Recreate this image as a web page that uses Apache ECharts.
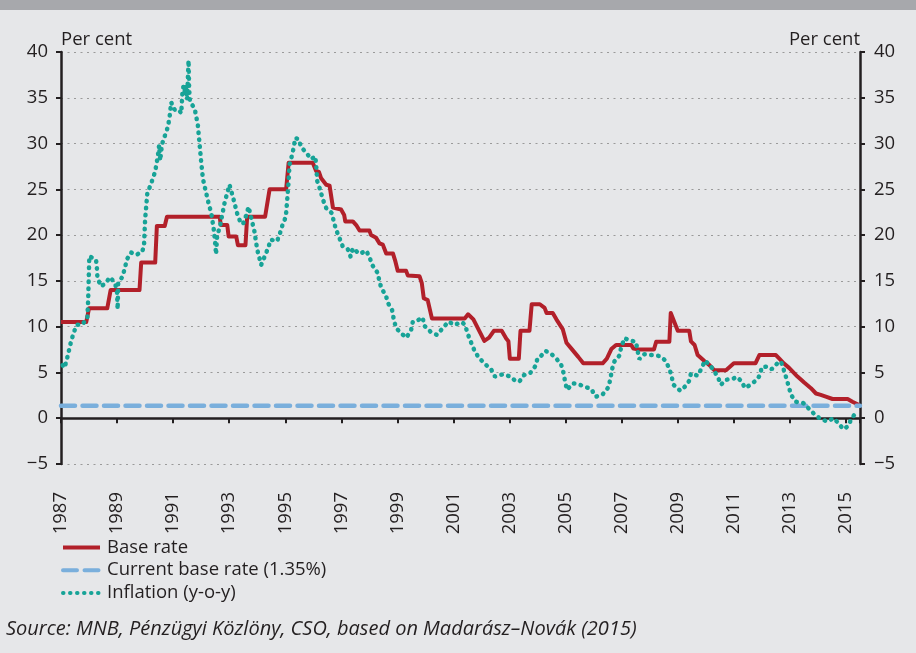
<!DOCTYPE html>
<html><head><meta charset="utf-8">
<script src="https://cdn.jsdelivr.net/npm/echarts@6/dist/echarts.min.js"></script>
<style>html,body{margin:0;padding:0;background:#e6e7e9;}#c{width:916px;height:653px;}</style>
</head><body><div id="c"></div>
<script>
// ---- data ----
const legendNames = ['Base rate', 'Current base rate (1.35%)', 'Inflation (y-o-y)'];
const xMin = 1987, xMax = 2015.5;
const currentRate = 1.35;
const baseYears = [1987.0,1987.9,1988.0,1988.65,1988.77,1989.8,1989.86,1990.36,1990.42,1990.7,1990.78,1992.66,1992.7,1992.93,1992.98,1993.25,1993.31,1993.58,1993.64,1994.28,1994.44,1995.03,1995.12,1995.98,1996.1,1996.2,1996.28,1996.46,1996.58,1996.7,1996.99,1997.1,1997.14,1997.41,1997.53,1997.65,1998.0,1998.06,1998.24,1998.36,1998.48,1998.6,1998.84,1998.93,1999.01,1999.31,1999.37,1999.79,1999.87,1999.94,2000.08,2000.23,2001.4,2001.52,2001.71,2002.1,2002.27,2002.44,2002.72,2002.88,2002.96,2003.01,2003.33,2003.39,2003.71,2003.79,2004.08,2004.25,2004.32,2004.54,2004.67,2004.9,2005.03,2005.22,2005.45,2005.63,2006.32,2006.47,2006.63,2006.8,2007.34,2007.42,2007.62,2008.15,2008.23,2008.7,2008.75,2009.0,2009.41,2009.47,2009.6,2009.71,2009.95,2010.13,2010.3,2010.72,2011.0,2011.77,2011.91,2012.5,2012.64,2012.78,2012.97,2013.27,2013.51,2013.75,2013.93,2014.1,2014.28,2014.52,2015.06,2015.23,2015.47];
const baseValues = [10.5,10.5,12.0,12.0,14.0,14.0,17.0,17.0,21.0,21.0,22.0,22.0,21.1,21.1,19.85,19.85,18.9,18.9,22.0,22.0,25.0,25.0,27.9,27.9,27.0,26.9,26.2,25.5,25.4,23.0,22.8,22.2,21.5,21.5,21.1,20.5,20.5,20.0,19.7,19.1,18.95,18.0,18.0,17.1,16.1,16.1,15.6,15.5,14.75,13.1,12.9,10.9,10.9,11.35,10.8,8.45,8.8,9.55,9.55,8.7,8.4,6.5,6.5,9.55,9.55,12.45,12.45,12.05,11.5,11.5,10.8,9.7,8.25,7.55,6.7,6.0,6.0,6.5,7.55,8.0,8.0,7.6,7.5,7.5,8.35,8.35,11.5,9.55,9.55,8.4,8.0,6.9,6.25,5.8,5.25,5.25,6.0,6.0,6.9,6.9,6.45,6.0,5.5,4.55,3.9,3.28,2.7,2.55,2.36,2.1,2.1,1.8,1.45];
const inflYears = [1987.06,1987.12,1987.2,1987.36,1987.46,1987.56,1987.74,1987.94,1987.97,1988.01,1988.25,1988.28,1988.3,1988.43,1988.57,1988.75,1988.93,1989.0,1989.02,1989.04,1989.2,1989.36,1989.5,1989.67,1989.88,1989.96,1990.0,1990.08,1990.2,1990.36,1990.43,1990.47,1990.5,1990.54,1990.6,1990.81,1990.87,1990.93,1991.05,1991.2,1991.29,1991.33,1991.37,1991.42,1991.46,1991.5,1991.53,1991.55,1991.57,1991.6,1991.77,1991.88,1991.94,1992.0,1992.06,1992.14,1992.27,1992.36,1992.45,1992.49,1992.53,1992.57,1992.66,1992.84,1992.93,1993.01,1993.13,1993.28,1993.4,1993.49,1993.61,1993.69,1993.76,1993.9,1994.0,1994.14,1994.27,1994.39,1994.48,1994.71,1994.81,1994.9,1995.02,1995.07,1995.12,1995.15,1995.24,1995.31,1995.35,1995.47,1995.57,1995.75,1995.92,1996.07,1996.1,1996.14,1996.26,1996.34,1996.46,1996.66,1996.73,1996.81,1996.93,1997.05,1997.23,1997.33,1997.41,1997.65,1997.89,1998.0,1998.12,1998.3,1998.36,1998.44,1998.58,1998.66,1998.81,1998.87,1998.95,1999.16,1999.32,1999.49,1999.55,1999.73,1999.9,1999.96,2000.18,2000.41,2000.62,2000.82,2001.03,2001.3,2001.41,2001.51,2001.61,2001.74,2001.89,2002.13,2002.34,2002.48,2002.76,2003.03,2003.2,2003.35,2003.51,2003.74,2003.91,2004.0,2004.12,2004.28,2004.46,2004.66,2004.84,2004.93,2004.98,2005.05,2005.25,2005.43,2005.67,2005.91,2006.08,2006.32,2006.53,2006.6,2006.65,2006.74,2006.92,2006.98,2007.1,2007.27,2007.51,2007.56,2007.63,2007.81,2008.05,2008.34,2008.54,2008.7,2008.78,2008.85,2009.09,2009.29,2009.41,2009.47,2009.71,2009.85,2009.97,2010.16,2010.33,2010.45,2010.54,2010.72,2010.96,2011.11,2011.25,2011.4,2011.59,2011.82,2011.94,2011.99,2012.18,2012.35,2012.54,2012.68,2012.78,2012.86,2012.95,2013.04,2013.21,2013.48,2013.69,2013.87,2014.1,2014.34,2014.56,2014.7,2014.91,2015.08,2015.2,2015.36];
const inflValues = [5.8,5.5,6.3,8.4,9.4,10.2,10.2,10.9,13.0,17.7,17.3,16.4,15.3,14.4,14.7,15.4,14.75,13.7,11.9,14.75,15.5,17.4,18.1,17.85,18.1,18.75,21.7,24.6,25.5,26.95,28.2,29.0,29.8,28.15,29.9,31.8,32.8,34.5,33.7,33.7,33.3,35.5,36.3,35.6,36.2,34.8,37.5,39.1,36.0,34.6,33.8,32.05,30.05,28.0,26.2,25.1,23.4,22.4,20.6,19.5,17.9,20.0,20.8,23.6,24.6,25.5,24.2,22.4,21.4,21.2,22.2,23.1,22.2,20.4,18.4,16.75,17.7,18.6,19.5,19.35,20.2,21.1,22.0,23.9,25.9,27.7,28.7,29.7,30.6,30.5,29.6,29.0,28.3,28.6,27.7,25.9,24.8,23.9,22.95,22.4,21.5,20.6,19.7,18.75,18.45,17.65,18.55,17.95,18.3,17.6,16.65,15.85,14.9,14.1,13.5,12.6,11.8,10.8,9.85,9.2,8.8,9.65,10.55,10.7,11.0,10.1,9.45,9.1,9.85,10.55,10.2,10.5,10.2,9.2,8.4,7.45,6.65,5.9,5.35,4.55,4.8,4.55,4.1,4.0,4.7,4.95,5.65,6.55,6.8,7.35,7.1,6.55,5.85,4.9,4.0,3.1,3.8,3.75,3.45,3.2,2.35,2.6,3.4,4.35,5.3,6.2,6.85,7.75,8.75,8.5,8.35,7.45,6.45,7.0,6.9,6.8,6.35,5.45,4.55,3.65,3.0,3.55,4.1,4.9,4.65,5.45,6.3,5.75,5.0,4.35,3.65,4.2,4.3,4.5,4.1,3.3,3.65,4.2,4.75,5.55,5.65,5.35,5.95,6.2,5.3,4.5,3.55,2.55,1.8,1.65,1.0,0.45,-0.1,-0.35,0.0,-0.45,-1.2,-0.85,0.0,0.6];
const yMin = -5, yMax = 40, yStep = 5, xStep = 2;
const axisTitle = 'Per cent';
const sourceText = 'Source: MNB, Pénzügyi Közlöny, CSO, based on Madarász–Novák (2015)';

// ---- chart ----
const zip = (a, b) => a.map((v, i) => [v, b[i]]);
const ink = '#231f20';
const FONT = 'Open Sans';
const FS = 18.5;
const chart = echarts.init(document.getElementById('c'), null, {renderer: 'canvas'});
const yLabel = v => (v < 0 ? '\u2212' + Math.abs(v) : String(v));
const yAxisCommon = {
  type: 'value', min: yMin, max: yMax, interval: yStep,
  axisLine: {show: true, onZero: false, lineStyle: {color: ink, width: 2.5}},
  axisTick: {show: true, length: 5, lineStyle: {color: ink, width: 2}},
  name: axisTitle, nameLocation: 'end', nameGap: 3
};
chart.setOption({
  backgroundColor: '#e6e7e9',
  animation: false,
  textStyle: {fontFamily: FONT},
  graphic: [
    {type: 'rect', left: 0, top: 0, shape: {width: 916, height: 10}, style: {fill: '#a7a8ac'}},
    {type: 'text', left: 6, top: 619, style: {text: sourceText, font: 'italic 20px "Open Sans"', fill: ink}}
  ],
  grid: {left: 61, right: 56, top: 52, bottom: 189},
  xAxis: {
    type: 'value', min: xMin, max: xMax, interval: xStep,
    axisLine: {onZero: true, lineStyle: {color: ink, width: 2.5}},
    axisTick: {length: 5, lineStyle: {color: ink, width: 2}},
    axisLabel: {rotate: 90, margin: 28, fontSize: FS, color: ink, fontFamily: FONT,
      formatter: v => (Number.isInteger(v) ? String(v) : '')},
    splitLine: {show: false}
  },
  yAxis: [
    Object.assign({}, yAxisCommon, {
      position: 'left',
      axisLabel: {margin: 13, fontSize: FS, color: ink, fontFamily: FONT, formatter: yLabel},
      splitLine: {show: true, lineStyle: {color: '#9a9a9a', width: 1.2, type: [2, 4.5]}},
      nameTextStyle: {align: 'left', verticalAlign: 'bottom', fontSize: FS, color: ink, fontFamily: FONT}
    }),
    Object.assign({}, yAxisCommon, {
      position: 'right',
      axisLabel: {margin: 14, fontSize: FS, color: ink, fontFamily: FONT, formatter: yLabel},
      splitLine: {show: false},
      nameTextStyle: {align: 'right', verticalAlign: 'bottom', fontSize: FS, color: ink, fontFamily: FONT}
    })
  ],
  legend: {
    orient: 'vertical', left: 61, top: 538, padding: 0, itemWidth: 37, itemHeight: 14, itemGap: 3.7,
    itemStyle: {opacity: 0},
    lineStyle: {width: 4},
    textStyle: {fontSize: FS, color: ink, fontFamily: FONT, padding: [0, 0, 0, 2]},
    data: legendNames
  },
  series: [
    {name: legendNames[0], type: 'line', data: zip(baseYears, baseValues), symbol: 'none',
     lineStyle: {color: '#b2202a', width: 4, join: 'round'}, itemStyle: {color: '#b2202a'}, z: 2},
    {name: legendNames[1], type: 'line', data: [[xMin, currentRate], [xMax, currentRate]], symbol: 'none',
     lineStyle: {color: '#7aafdc', width: 4.5, type: [14, 7.5], cap: 'round'}, itemStyle: {color: '#7aafdc'}, z: 3},
    {name: legendNames[2], type: 'line', data: zip(inflYears, inflValues), symbol: 'none',
     lineStyle: {color: '#17a397', width: 4.5, type: [0.5, 6.5], cap: 'round'}, itemStyle: {color: '#17a397'}, z: 4}
  ]
});
</script></body></html>
